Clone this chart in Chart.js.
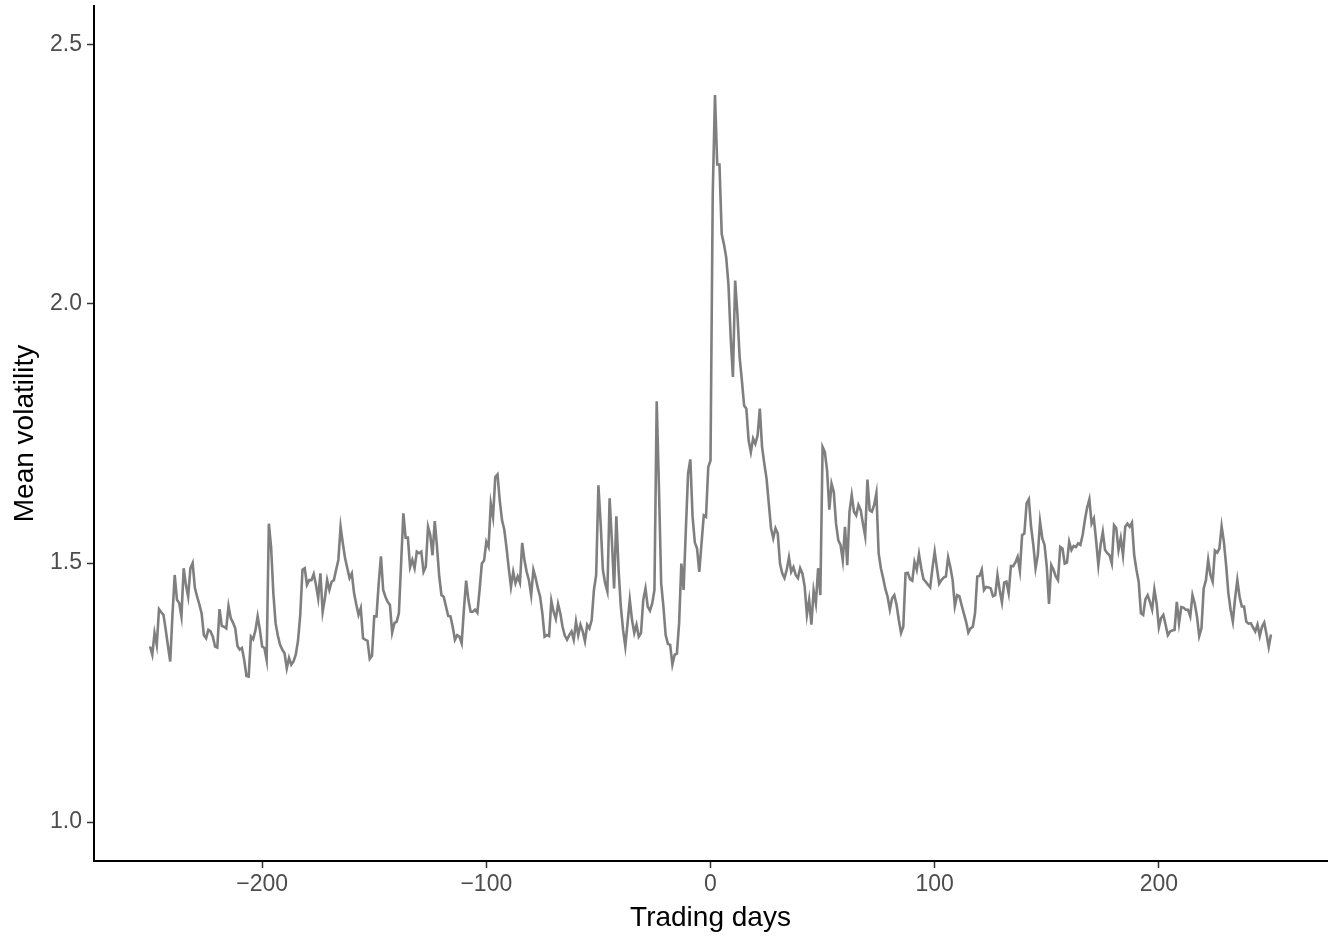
<!DOCTYPE html>
<html lang="en">
<head>
  <meta charset="UTF-8">
  <title>Mean volatility around the event</title>
  <script src="https://cdn.jsdelivr.net/npm/chart.js"></script>
  <style>
    html, body { margin: 0; padding: 0; background: #ffffff; }
    canvas { display: block; }
  </style>
</head>
<body>
  <canvas id="volChart" width="1335" height="936"></canvas>

  <script>
  // mean volatility per trading day, day -250 .. 250
  const firstDay = -250;
  const meanVol = [
    1.339, 1.323, 1.365, 1.342, 1.411, 1.405, 1.400, 1.371, 1.340, 1.310, // -250
    1.400, 1.477, 1.429, 1.423, 1.397, 1.490, 1.458, 1.435, 1.490, 1.500, // -240
    1.452, 1.435, 1.420, 1.403, 1.361, 1.355, 1.371, 1.368, 1.358, 1.339, // -230
    1.337, 1.411, 1.379, 1.377, 1.374, 1.417, 1.394, 1.385, 1.374, 1.340, // -220
    1.333, 1.336, 1.313, 1.282, 1.281, 1.358, 1.353, 1.370, 1.397, 1.371, // -210
    1.339, 1.336, 1.313, 1.576, 1.531, 1.442, 1.384, 1.360, 1.342, 1.333, // -200
    1.326, 1.297, 1.317, 1.304, 1.310, 1.323, 1.350, 1.400, 1.487, 1.490, // -190
    1.458, 1.467, 1.467, 1.479, 1.458, 1.432, 1.480, 1.406, 1.432, 1.467, // -180
    1.448, 1.464, 1.467, 1.487, 1.506, 1.570, 1.538, 1.509, 1.490, 1.471, // -170
    1.480, 1.442, 1.420, 1.400, 1.413, 1.355, 1.352, 1.350, 1.315, 1.321, // -160
    1.397, 1.397, 1.461, 1.513, 1.448, 1.435, 1.425, 1.419, 1.366, 1.384, // -150
    1.387, 1.403, 1.500, 1.596, 1.549, 1.549, 1.492, 1.506, 1.490, 1.522, // -140
    1.519, 1.522, 1.483, 1.493, 1.570, 1.554, 1.515, 1.581, 1.531, 1.474, // -130
    1.438, 1.435, 1.416, 1.398, 1.397, 1.377, 1.352, 1.361, 1.358, 1.345, // -120
    1.410, 1.466, 1.429, 1.406, 1.406, 1.410, 1.404, 1.448, 1.499, 1.505, // -110
    1.541, 1.531, 1.615, 1.589, 1.666, 1.671, 1.620, 1.583, 1.565, 1.530, // -100
    1.490, 1.454, 1.483, 1.461, 1.474, 1.462, 1.539, 1.506, 1.483, 1.467, // -90
    1.438, 1.487, 1.471, 1.451, 1.435, 1.403, 1.358, 1.361, 1.359, 1.427, // -80
    1.406, 1.392, 1.421, 1.403, 1.377, 1.360, 1.352, 1.361, 1.368, 1.352, // -70
    1.387, 1.361, 1.381, 1.368, 1.349, 1.381, 1.374, 1.390, 1.448, 1.477, // -60
    1.650, 1.576, 1.487, 1.461, 1.445, 1.625, 1.544, 1.451, 1.590, 1.487, // -50
    1.416, 1.371, 1.339, 1.384, 1.429, 1.390, 1.365, 1.381, 1.358, 1.365, // -40
    1.429, 1.451, 1.416, 1.408, 1.422, 1.448, 1.812, 1.647, 1.461, 1.416, // -30
    1.361, 1.344, 1.342, 1.304, 1.323, 1.325, 1.384, 1.499, 1.448, 1.564, // -20
    1.673, 1.700, 1.590, 1.540, 1.528, 1.483, 1.538, 1.592, 1.589, 1.685, // -10
    1.698, 2.212, 2.403, 2.269, 2.269, 2.135, 2.115, 2.090, 2.038, 1.936, // 0
    1.859, 2.045, 1.981, 1.897, 1.852, 1.804, 1.798, 1.737, 1.714, 1.740, // 10
    1.730, 1.746, 1.798, 1.724, 1.692, 1.663, 1.615, 1.567, 1.548, 1.567, // 20
    1.557, 1.499, 1.480, 1.471, 1.487, 1.511, 1.483, 1.492, 1.477, 1.471, // 30
    1.490, 1.480, 1.455, 1.400, 1.429, 1.381, 1.447, 1.422, 1.490, 1.438, // 40
    1.724, 1.714, 1.679, 1.603, 1.653, 1.637, 1.576, 1.544, 1.535, 1.505, // 50
    1.570, 1.496, 1.599, 1.631, 1.599, 1.592, 1.612, 1.602, 1.576, 1.552, // 60
    1.661, 1.602, 1.599, 1.612, 1.635, 1.519, 1.490, 1.471, 1.450, 1.435, // 70
    1.410, 1.432, 1.438, 1.419, 1.390, 1.365, 1.377, 1.480, 1.481, 1.469, // 80
    1.466, 1.502, 1.487, 1.517, 1.490, 1.469, 1.464, 1.458, 1.453, 1.490, // 90
    1.522, 1.490, 1.460, 1.467, 1.472, 1.474, 1.511, 1.492, 1.467, 1.417, // 100
    1.438, 1.436, 1.419, 1.403, 1.387, 1.366, 1.374, 1.377, 1.403, 1.474, // 110
    1.475, 1.487, 1.448, 1.454, 1.453, 1.451, 1.436, 1.438, 1.477, 1.448, // 120
    1.424, 1.462, 1.464, 1.442, 1.494, 1.494, 1.501, 1.512, 1.485, 1.554, // 130
    1.557, 1.615, 1.623, 1.570, 1.535, 1.490, 1.515, 1.580, 1.548, 1.535, // 140
    1.493, 1.421, 1.496, 1.487, 1.474, 1.467, 1.531, 1.528, 1.499, 1.501, // 150
    1.541, 1.525, 1.533, 1.531, 1.538, 1.535, 1.554, 1.583, 1.607, 1.623, // 160
    1.576, 1.586, 1.544, 1.496, 1.535, 1.560, 1.525, 1.519, 1.515, 1.499, // 170
    1.573, 1.567, 1.525, 1.548, 1.515, 1.570, 1.576, 1.570, 1.578, 1.515, // 180
    1.487, 1.464, 1.403, 1.400, 1.430, 1.438, 1.425, 1.410, 1.449, 1.422, // 190
    1.376, 1.394, 1.400, 1.381, 1.361, 1.368, 1.370, 1.371, 1.425, 1.384, // 200
    1.415, 1.414, 1.410, 1.410, 1.397, 1.438, 1.422, 1.397, 1.359, 1.374, // 210
    1.451, 1.467, 1.506, 1.477, 1.464, 1.524, 1.520, 1.528, 1.571, 1.541, // 220
    1.496, 1.442, 1.410, 1.387, 1.432, 1.467, 1.435, 1.416, 1.416, 1.387, // 230
    1.383, 1.384, 1.376, 1.368, 1.381, 1.359, 1.377, 1.385, 1.363, 1.338, // 240
    1.362                                                                 // 250
  ];

  const xTicks = [-200, -100, 0, 100, 200];
  const yTicks = [1.0, 1.5, 2.0, 2.5];

  const points = meanVol.map((v, i) => ({ x: firstDay + i, y: v }));

  const tickFont = { family: 'Liberation Sans, Arial, sans-serif', size: 23 };
  const titleFont = { family: 'Liberation Sans, Arial, sans-serif', size: 28 };

  const ctx = document.getElementById('volChart').getContext('2d');
  new Chart(ctx, {
    type: 'line',
    data: {
      datasets: [{
        data: points,
        borderColor: '#7f7f7f',
        borderWidth: 2.6,
        pointRadius: 0,
        tension: 0,
        fill: false
      }]
    },
    options: {
      responsive: false,
      animation: false,
      devicePixelRatio: 1,
      layout: { padding: { top: 6, right: 8, left: 0, bottom: 0 } },
      plugins: { legend: { display: false }, tooltip: { enabled: false } },
      scales: {
        x: {
          type: 'linear',
          min: -275,
          max: 275,
          afterFit: (s) => { s.height = 75; s.paddingLeft = 0; s.paddingRight = 0; },
          afterBuildTicks: (s) => { s.ticks = xTicks.map(v => ({ value: v })); },
          ticks: {
            font: tickFont,
            color: '#4d4d4d',
            padding: 3,
            maxRotation: 0,
            callback: (v) => String(v).replace('-', '\u2212')
          },
          grid: { drawOnChartArea: false, drawTicks: true, tickLength: 7, tickColor: '#333333', tickWidth: 1.5 },
          border: { display: true, color: '#000000', width: 2 },
          title: { display: true, text: 'Trading days', font: titleFont, color: '#000000', padding: { top: 0, bottom: 1 } }
        },
        y: {
          min: 0.925,
          max: 2.575,
          afterFit: (s) => { s.width = 94; s.paddingTop = 0; s.paddingBottom = 0; },
          afterBuildTicks: (s) => { s.ticks = yTicks.map(v => ({ value: v })); },
          ticks: {
            font: tickFont,
            color: '#4d4d4d',
            padding: 5,
            callback: (v) => v.toFixed(1)
          },
          grid: { drawOnChartArea: false, drawTicks: true, tickLength: 7, tickColor: '#333333', tickWidth: 1.5 },
          border: { display: true, color: '#000000', width: 2 },
          title: { display: true, text: 'Mean volatility', font: titleFont, color: '#000000', padding: { top: 8, bottom: 0 } }
        }
      }
    }
  });
  </script>
</body>
</html>
